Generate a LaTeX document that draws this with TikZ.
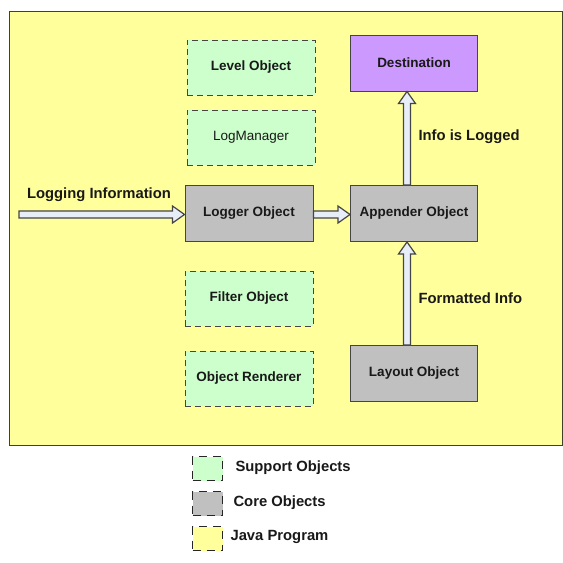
\documentclass[tikz,border=0pt]{standalone}
\usepackage{fontspec}
\setmainfont{Liberation Sans}
\usetikzlibrary{calc}

\definecolor{progyellow}{HTML}{FFFF9C}
\definecolor{supgreen}{HTML}{CCFFCC}
\definecolor{coregray}{HTML}{C0C0C0}
\definecolor{destpurple}{HTML}{CC99FF}
\definecolor{edgegray}{HTML}{454545}
\definecolor{arrowfill}{HTML}{E8EEF8}

\tikzset{
  lbl/.style={font=\fontsize{13.5}{15}\selectfont\bfseries, text=black!90},
  biglbl/.style={font=\fontsize{14.8}{17}\selectfont\bfseries, text=black!90},
  supportbox/.style={draw=edgegray, fill=supgreen, dashed, dash pattern=on 6pt off 4pt,
    line width=1pt, minimum width=128pt, minimum height=55pt, lbl},
  corebox/.style={draw=edgegray, fill=coregray, line width=1pt,
    minimum width=127pt, minimum height=56pt, lbl},
  keybox/.style={draw=black!85, dashed, dash pattern=on 8pt off 6pt, line width=1.4pt,
    minimum width=30pt, minimum height=24pt},
  blockarrow/.style={draw=edgegray, fill=arrowfill, line width=1.2pt, to path={
    ($(\tikztostart)!3.5pt!90:(\tikztotarget)$)
    -- ($($(\tikztotarget)!12pt!(\tikztostart)$)!3.5pt!90:(\tikztotarget)$)
    -- ($($(\tikztotarget)!12pt!(\tikztostart)$)!8.5pt!90:(\tikztotarget)$)
    -- (\tikztotarget)
    -- ($($(\tikztotarget)!12pt!(\tikztostart)$)!8.5pt!-90:(\tikztotarget)$)
    -- ($($(\tikztotarget)!12pt!(\tikztostart)$)!3.5pt!-90:(\tikztotarget)$)
    -- ($(\tikztostart)!3.5pt!-90:(\tikztotarget)$) -- cycle}}
}

\begin{document}
\begin{tikzpicture}[x=1pt, y=-1pt]
  \useasboundingbox[fill=white] (0,0) rectangle (563,563);

  \draw[fill=progyellow, draw=black!70!olive, line width=1pt] (9,11) rectangle (562,445);

  \node[supportbox] (level) at (251,67.5) {Level Object};
  \node[supportbox, font=\fontsize{13.5}{15}\selectfont] (logmgr) at (251,137.5) {LogManager};
  \node[corebox, minimum width=128pt] (logger) at (249,213.5) {Logger Object};
  \node[supportbox] (filter) at (249,298.5) {Filter Object};
  \node[supportbox] (render) at (249,378.5) {Object Renderer};

  \node[corebox, fill=destpurple] (dest) at (414,63) {Destination};
  \node[corebox] (appender) at (414,213.5) {Appender Object};
  \node[corebox] (layout) at (414,373.5) {Layout Object};

  \coordinate (src) at (19,214.5);

  \draw[blockarrow] (src) to ([yshift=-1pt]logger.west);
  \draw[blockarrow] ([yshift=-1pt]logger.east) to ([yshift=-1pt]appender.west);
  \draw[blockarrow] ([xshift=-7pt]appender.north) to ([xshift=-7pt]dest.south);
  \draw[blockarrow] ([xshift=-7pt]layout.north) to ([xshift=-7pt]appender.south);

  \node[biglbl] (loginfo) at (99,195) {Logging Information};
  \node[biglbl, anchor=west] (logged) at (415,137) {Info is Logged};
  \node[biglbl, anchor=west] (formatted) at (415,298) {Formatted Info};

  % legend
  \node[keybox, fill=supgreen] (keysup) at (207.5,468.5) {};
  \node[keybox, fill=coregray] (keycore) at (207.5,503.5) {};
  \node[keybox, fill=progyellow] (keyprog) at (207.5,538.5) {};
  \node[biglbl, anchor=west] at (232,468) {Support Objects};
  \node[biglbl, anchor=west] at (230,503) {Core Objects};
  \node[biglbl, anchor=west] at (227,537) {Java Program};

\end{tikzpicture}
\end{document}
